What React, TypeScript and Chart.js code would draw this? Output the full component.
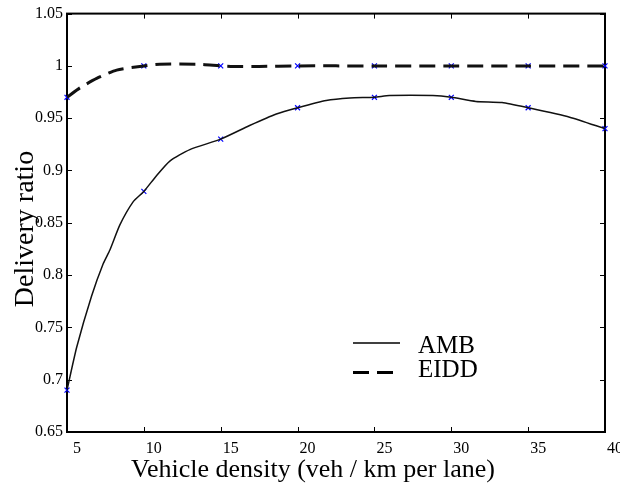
import React, { useEffect, useRef } from "react";
import { Chart, registerables } from "chart.js";

Chart.register(...registerables);

// Marker positions (values read at the measured densities)
const densities = [5, 10, 15, 20, 25, 30, 35, 40];
const ambMarkers = [0.69, 0.88, 0.93, 0.96, 0.97, 0.97, 0.96, 0.94];
const eiddMarkers = [0.97, 1.0, 1.0, 1.0, 1.0, 1.0, 1.0, 1.0];

// Drawn curves
const ambCurveX = [5, 5.63, 6.6, 7.36, 7.79, 8.44, 9.3, 10, 10.82, 11.69, 12.99, 15, 16.88, 18.62, 20, 21.86, 23.4, 25, 25.97, 28.8, 30, 31.6, 33.3, 35, 37.7, 40];
const ambCurveY = [0.69, 0.731, 0.78, 0.811, 0.824, 0.848, 0.87, 0.88, 0.895, 0.909, 0.92, 0.93, 0.943, 0.954, 0.96, 0.967, 0.9694, 0.97, 0.9716, 0.9716, 0.97, 0.966, 0.965, 0.96, 0.951, 0.94];
const eiddCurveX = [5, 5.84, 6.93, 8.23, 10, 11.04, 13.6, 15, 15.8, 17.5, 20, 25, 30, 35, 40];
const eiddCurveY = [0.97, 0.979, 0.988, 0.996, 1.0, 1.0016, 1.0016, 1.0, 0.9995, 0.9995, 1.0, 1.0, 1.0, 1.0, 1.0];

const seriesNames = ["AMB", "EIDD"];
const xTitle = "Vehicle density (veh / km per lane)";
const yTitle = "Delivery ratio";
const xTicks = [5, 10, 15, 20, 25, 30, 35, 40];
const yTicks = [0.65, 0.7, 0.75, 0.8, 0.85, 0.9, 0.95, 1.0, 1.05];

const SERIF = "'Liberation Serif', 'Times New Roman', serif";

const framePlugin = {
  id: "frameTicks",
  beforeDatasetsDraw(chart: any) {
    const { ctx, chartArea } = chart;
    const { left, right, top, bottom } = chartArea;
    const xs = chart.scales.x;
    const ys = chart.scales.y;
    ctx.save();
    ctx.strokeStyle = "#000";
    ctx.lineWidth = 1;
    const tl = 5;
    ctx.beginPath();
    xTicks.forEach((v) => {
      const px = Math.round(xs.getPixelForValue(v)) + 0.5;
      ctx.moveTo(px, bottom);
      ctx.lineTo(px, bottom - tl);
      ctx.moveTo(px, top);
      ctx.lineTo(px, top + tl);
    });
    yTicks.forEach((v) => {
      const py = Math.round(ys.getPixelForValue(v)) + 0.5;
      ctx.moveTo(left, py);
      ctx.lineTo(left + tl, py);
      ctx.moveTo(right, py);
      ctx.lineTo(right - tl, py);
    });
    ctx.stroke();
    ctx.lineWidth = 2;
    ctx.strokeRect(left, top, right - left, bottom - top);
    ctx.restore();
  },
  afterDraw(chart: any) {
    const { ctx } = chart;
    ctx.save();
    ctx.fillStyle = "#000";
    // axis titles
    ctx.font = `26px ${SERIF}`;
    ctx.textAlign = "center";
    ctx.textBaseline = "alphabetic";
    ctx.fillText(xTitle, 313, 477);
    ctx.save();
    ctx.translate(33, 229);
    ctx.rotate(-Math.PI / 2);
    ctx.font = `28px ${SERIF}`;
    ctx.fillText(yTitle, 0, 0);
    ctx.restore();
    // legend
    ctx.strokeStyle = "#000";
    ctx.lineWidth = 1.5;
    ctx.beginPath();
    ctx.moveTo(353, 343);
    ctx.lineTo(400, 343);
    ctx.stroke();
    ctx.lineWidth = 3;
    ctx.setLineDash([16, 8]);
    ctx.beginPath();
    ctx.moveTo(353, 372.5);
    ctx.lineTo(393, 372.5);
    ctx.stroke();
    ctx.setLineDash([]);
    ctx.font = `25px ${SERIF}`;
    ctx.textAlign = "left";
    ctx.fillText(seriesNames[0], 418, 353);
    ctx.fillText(seriesNames[1], 418, 377);
    ctx.restore();
  },
};

export default function App() {
  const ref = useRef<HTMLCanvasElement>(null);
  useEffect(() => {
    if (!ref.current) return;
    const chart = new Chart(ref.current, {
      type: "line",
      data: {
        datasets: [
          {
            label: seriesNames[0],
            data: ambCurveX.map((x, i) => ({ x, y: ambCurveY[i] })),
            borderColor: "#111",
            borderWidth: 1.5,
            pointRadius: 0,
            tension: 0.2,
            fill: false,
          },
          {
            label: seriesNames[1],
            data: eiddCurveX.map((x, i) => ({ x, y: eiddCurveY[i] })),
            borderColor: "#111",
            borderWidth: 3,
            borderDash: [16, 8],
            pointRadius: 0,
            tension: 0.2,
            fill: false,
          },
          {
            label: seriesNames[0] + " points",
            data: densities.map((x, i) => ({ x, y: ambMarkers[i] })),
            showLine: false,
            pointStyle: "crossRot",
            pointRadius: 3.5,
            pointBorderColor: "#0000ff",
            pointBorderWidth: 1.2,
            clip: false,
          } as any,
          {
            label: seriesNames[1] + " points",
            data: densities.map((x, i) => ({ x, y: eiddMarkers[i] })),
            showLine: false,
            pointStyle: "crossRot",
            pointRadius: 3.5,
            pointBorderColor: "#0000ff",
            pointBorderWidth: 1.2,
            clip: false,
          } as any,
        ],
      },
      options: {
        animation: false,
        responsive: false,
        layout: { padding: { left: 0, top: 10, right: 14, bottom: 0 } },
        plugins: { legend: { display: false }, tooltip: { enabled: false } },
        scales: {
          x: {
            type: "linear",
            min: 5,
            max: 40,
            afterFit: (s: any) => {
              s.height = 55;
            },
            afterBuildTicks: (s: any) => {
              s.ticks = xTicks.map((v) => ({ value: v }));
            },
            grid: { display: false, drawTicks: false },
            border: { display: false },
            ticks: {
              color: "#000",
              font: { family: SERIF, size: 16 },
              padding: 7,
              labelOffset: 10,
              maxRotation: 0,
              autoSkip: false,
              callback: (v: any) => String(Number(Number(v).toFixed(2))),
            },
          },
          y: {
            type: "linear",
            min: 0.65,
            max: 1.05,
            afterFit: (s: any) => {
              s.width = 67;
            },
            afterBuildTicks: (s: any) => {
              s.ticks = yTicks.map((v) => ({ value: v }));
            },
            grid: { display: false, drawTicks: false },
            border: { display: false },
            ticks: {
              color: "#000",
              font: { family: SERIF, size: 16 },
              padding: 4,
              autoSkip: false,
              callback: (v: any) => String(Number(Number(v).toFixed(2))),
            },
          },
        },
      },
      plugins: [framePlugin],
    });
    return () => chart.destroy();
  }, []);
  return (
    <div style={{ position: "absolute", left: 0, top: 0, width: 620, height: 487, background: "#fff" }}>
      <canvas ref={ref} width={620} height={487} />
    </div>
  );
}
